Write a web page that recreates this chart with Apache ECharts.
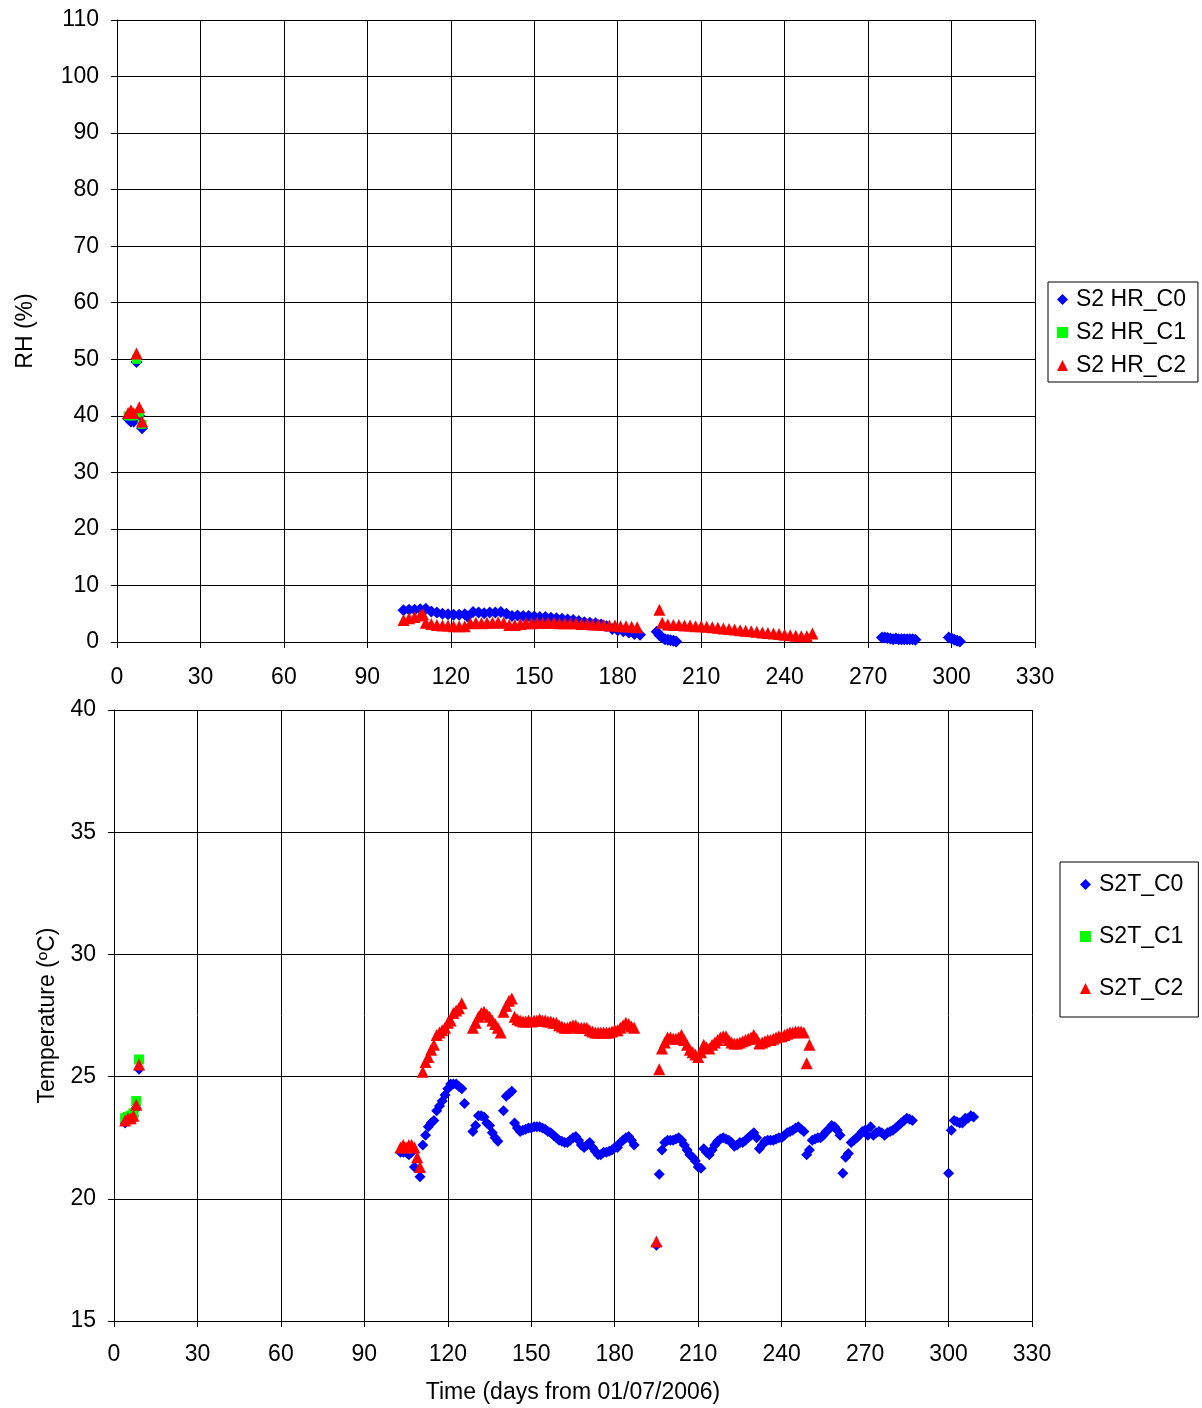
<!DOCTYPE html>
<html>
<head>
<meta charset="utf-8">
<title>S2 RH / Temperature</title>
<script src="https://cdn.jsdelivr.net/npm/echarts@6/dist/echarts.min.js"></script>
<style>
html, body { margin: 0; padding: 0; background: #fff; }
#main { width: 1202px; height: 1408px; }
</style>
</head>
<body>
<div id="main"></div>
<script>
// RH (%) - [day, value]
var hrC0 = [[4,39.5],[5,39],[6,39],[7,49.5],[8,40],[9,37.8],
    [103,5.6],[105,5.7],[107,5.7],[109,5.8],[111,5.9],[113,5.4],[115,5.2],[117,5.0],[119,4.9],[121,4.8],[123,4.8],[125,4.9],[126,4.5],
    [128,5.3],[130,5.2],[132,5.1],[134,5.2],[136,5.2],[138,5.3],[140,5.0],[142,4.6],[144,4.7],[146,4.6],[148,4.6],[150,4.5],[152,4.4],
    [154,4.4],[156,4.3],[158,4.2],[160,4.1],[162,4.0],[164,3.9],[166,3.7],[168,3.5],[170,3.4],[172,3.3],[174,3.1],[176,2.8],[178,2.3],
    [180,2.1],[182,1.9],[184,1.7],[186,1.4],[188,1.3],
    [194,1.8],[195,1.2],[196,0.8],[197,0.5],[198,0.4],[199,0.3],[200,0.2],[201,0.1],
    [275,0.8],[276,0.8],[277,0.7],[278,0.6],[279,0.5],[280,0.6],[281,0.5],[282,0.5],[283,0.5],[284,0.5],[285,0.5],[286,0.5],[287,0.4],
    [299,0.8],[300,0.6],[301,0.4],[302,0.2],[303,0.1]];
var hrC1 = [[4,40],[5,40],[6,40],[7,50],[8,40.5],[9,38.5]];
var hrC2 = [[4,40.5],[5,41],[6,40.5],[7,51],[8,41.5],[9,39],
    [103,3.9],[105,4.2],[107,4.4],[109,4.7],[110,4.9],[111,3.4],[113,3.2],[115,3.0],[117,2.9],[119,2.9],[121,2.8],[123,2.8],[125,2.8],
    [127,3.3],[129,3.4],[131,3.3],[133,3.4],[135,3.4],[137,3.5],[139,3.4],[141,3.0],[143,3.0],[145,3.2],[147,3.3],[149,3.3],[151,3.4],
    [153,3.4],[155,3.4],[157,3.4],[159,3.3],[161,3.3],[163,3.3],[165,3.3],[167,3.2],[169,3.2],[171,3.1],[173,3.1],[175,3.0],[177,2.9],
    [179,2.9],[181,2.8],[183,2.8],[185,2.7],[187,2.6],
    [195,5.7],[196,3.4],[198,3.1],[200,3.0],[202,3.0],[204,2.9],[206,2.9],[208,2.8],[210,2.8],[212,2.7],[214,2.6],[216,2.5],[218,2.4],
    [220,2.3],[222,2.2],[224,2.1],[226,2.0],[228,1.9],[230,1.8],[232,1.7],[234,1.6],[236,1.5],[238,1.4],[240,1.3],[242,1.2],[244,1.1],
    [246,1.0],[248,1.0],[250,1.5]];

// Temperature (ºC) - [day, value]
var tC0 = [[4,23.1],[5,23.2],[6,23.3],[7,23.4],[8,23.7],[9,25.3],
    [103,21.9],[104,21.9],[105,21.9],[106,21.8],[107,21.9],[108,21.3],[110,20.9],[111,22.2],[112,22.6],[113,22.95],[114,23.1],[115,23.2],
    [116,23.6],[117,23.8],[118,24.0],[119,24.25],[120,24.5],[121,24.7],[122,24.7],[123,24.7],[124,24.6],[125,24.5],[126,23.9],
    [129,22.75],[130,23.0],[131,23.4],[132,23.4],[133,23.35],[134,23.1],[135,23.0],[136,22.7],[137,22.5],[138,22.35],
    [140,23.6],[141,24.2],[142,24.3],[143,24.4],[144,23.1],[145,22.9],[146,22.75],[147,22.8],[148,22.85],[149,22.9],[150,22.9],
    [151,22.95],[152,22.95],[153,22.95],[154,22.9],[155,22.85],[156,22.75],[157,22.7],[158,22.6],[159,22.5],[160,22.4],[161,22.35],
    [162,22.3],[163,22.3],[164,22.4],[165,22.5],[166,22.55],[167,22.4],[168,22.2],[169,22.1],[170,22.2],[171,22.3],[172,22.1],
    [173,21.95],[174,21.8],[175,21.8],[176,21.9],[177,21.9],[178,21.95],[179,22.0],[180,22.1],[181,22.1],[182,22.3],[183,22.4],
    [184,22.5],[185,22.55],[186,22.4],[187,22.2],
    [195,18.1],[196,21.0],[197,22.0],[198,22.3],[199,22.4],[200,22.4],[201,22.4],[202,22.45],[203,22.5],[204,22.4],[205,22.2],
    [206,22.0],[207,21.8],[208,21.7],[209,21.55],[210,21.3],[211,21.25],[212,22.05],[213,21.9],[214,21.8],[215,22.0],[216,22.2],
    [217,22.35],[218,22.45],[219,22.5],[220,22.45],[221,22.4],[222,22.3],[223,22.15],[224,22.2],[225,22.3],[226,22.3],[227,22.4],
    [228,22.5],[229,22.6],[230,22.7],[231,22.5],[232,22.05],[233,22.2],[234,22.35],[235,22.4],[236,22.4],[237,22.4],[238,22.45],
    [239,22.5],[240,22.5],[241,22.6],[242,22.7],[243,22.75],[244,22.8],[245,22.9],[246,22.95],[247,22.85],[248,22.75],[249,21.8],
    [250,22.0],[251,22.4],[252,22.45],[253,22.5],[254,22.5],[255,22.6],[256,22.75],[257,22.85],[258,23.0],[259,22.95],[260,22.8],
    [261,22.6],[262,21.05],[263,21.7],[264,21.85],[265,22.3],[266,22.4],[267,22.5],[268,22.6],[269,22.75],[270,22.8],[271,22.6],
    [272,22.95],[273,22.6],[274,22.7],[275,22.75],[276,22.7],[277,22.6],[278,22.7],[279,22.75],[280,22.8],[281,22.9],[282,23.0],
    [283,23.1],[284,23.2],[285,23.3],[286,23.25],[287,23.2],
    [300,21.05],[301,22.8],[302,23.2],[303,23.15],[304,23.1],[305,23.1],[306,23.3],[307,23.3],[308,23.4],[309,23.35]];
var tC1 = [[4,23.3],[5,23.35],[6,23.4],[7,23.5],[8,24.0],[9,25.7]];
var tC2 = [[4,23.2],[5,23.3],[6,23.3],[7,23.4],[8,23.85],[9,25.5],
    [103,22.1],[104,22.2],[105,22.1],[106,22.2],[107,22.2],[108,22.1],[109,21.7],[110,21.3],[111,25.2],[112,25.6],[113,25.8],
    [114,26.1],[115,26.3],[116,26.7],[117,26.8],[118,26.9],[119,27.0],[120,27.2],[121,27.3],[122,27.6],[123,27.7],[124,27.8],[125,28.0],
    [129,27.0],[130,27.2],[131,27.45],[132,27.6],[133,27.65],[134,27.55],[135,27.45],[136,27.3],[137,27.15],[138,27.0],[139,26.8],
    [140,27.65],[141,27.9],[142,28.1],[143,28.2],[144,27.45],[145,27.35],[146,27.3],[147,27.25],[148,27.25],[149,27.3],[150,27.25],
    [151,27.3],[152,27.3],[153,27.35],[154,27.3],[155,27.3],[156,27.25],[157,27.25],[158,27.2],[159,27.2],[160,27.1],[161,27.05],
    [162,27.0],[163,27.0],[164,27.05],[165,27.1],[166,27.1],[167,27.0],[168,27.0],[169,27.0],[170,27.0],[171,26.9],[172,26.85],
    [173,26.8],[174,26.8],[175,26.8],[176,26.8],[177,26.8],[178,26.8],[179,26.85],[180,26.9],[181,26.9],[182,27.0],[183,27.1],
    [184,27.2],[185,27.15],[186,27.05],[187,27.0],
    [195,18.25],[196,25.3],[197,26.15],[198,26.4],[199,26.6],[200,26.6],[201,26.55],[202,26.55],[203,26.6],[204,26.7],[205,26.5],
    [206,26.3],[207,26.1],[208,26.0],[209,25.9],[210,25.8],[211,26.0],[212,26.3],[213,26.2],[214,26.15],[215,26.3],[216,26.4],
    [217,26.5],[218,26.6],[219,26.65],[220,26.65],[221,26.5],[222,26.4],[223,26.35],[224,26.35],[225,26.4],[226,26.45],[227,26.5],
    [228,26.55],[229,26.6],[230,26.7],[231,26.55],[232,26.35],[233,26.4],[234,26.45],[235,26.5],[236,26.5],[237,26.55],[238,26.6],
    [239,26.65],[240,26.65],[241,26.7],[242,26.75],[243,26.8],[244,26.8],[245,26.85],[246,26.85],[247,26.85],[248,26.8],[249,25.55],
    [250,26.3]];

var hrNames = ['S2 HR_C0', 'S2 HR_C1', 'S2 HR_C2'];
var tNames = ['S2T_C0', 'S2T_C1', 'S2T_C2'];

var FONT = 'Liberation Sans, Arial, sans-serif';
var FS = 23;
var blue = '#0000ff', green = '#00ff00', red = '#ff0000';

function xAx(gridIndex, margin) {
    return {
        type: 'value', gridIndex: gridIndex, min: 0, max: 330, interval: 30,
        axisLine: {onZero: false, lineStyle: {color: '#000', width: 1}},
        axisTick: {show: true, length: 6, lineStyle: {color: '#000'}},
        axisLabel: {color: '#000', fontSize: FS, fontFamily: FONT, margin: margin},
        splitLine: {show: true, lineStyle: {color: '#000', width: 1}}
    };
}
function yAx(gridIndex, min, max, interval, name, nameGap) {
    return {
        type: 'value', gridIndex: gridIndex, min: min, max: max, interval: interval,
        name: name, nameLocation: 'middle', nameGap: nameGap, nameRotate: 90,
        nameTextStyle: {color: '#000', fontSize: FS, fontFamily: FONT},
        axisLine: {show: true, onZero: false, lineStyle: {color: '#000', width: 1}},
        axisTick: {show: true, length: 6, lineStyle: {color: '#000'}},
        axisLabel: {color: '#000', fontSize: FS, fontFamily: FONT, margin: 18},
        splitLine: {show: true, lineStyle: {color: '#000', width: 1}}
    };
}
function scat(name, data, sym, size, color, idx) {
    return {
        name: name, type: 'scatter', xAxisIndex: idx, yAxisIndex: idx,
        symbol: sym, symbolSize: size, data: data,
        itemStyle: {color: color, opacity: 1}, silent: true
    };
}

var myChart = echarts.init(document.getElementById('main'), null, {renderer: 'canvas'});

var option = {
    backgroundColor: '#fff',
    animation: false,
    grid: [
        {left: 117, top: 20, width: 918, height: 622},
        {left: 114, top: 710, width: 918, height: 611}
    ],
    xAxis: [
        xAx(0, 24),
        Object.assign(xAx(1, 22), {
            name: 'Time (days from 01/07/2006)', nameLocation: 'middle', nameGap: 60,
            nameTextStyle: {color: '#000', fontSize: FS, fontFamily: FONT}
        })
    ],
    yAxis: [
        yAx(0, 0, 110, 10, 'RH (%)', 80),
        yAx(1, 15, 40, 5, 'Temperature (ºC)', 55)
    ],
    legend: [
        {
            data: hrNames, orient: 'vertical', left: 1048, top: 282,
            borderColor: '#000', borderWidth: 1, padding: [6, 12, 5, 9],
            itemWidth: 11, itemHeight: 11, itemGap: 10,
            textStyle: {color: '#000', fontSize: FS, fontFamily: FONT, padding: [0, 0, 0, 3]}
        },
        {
            data: tNames, orient: 'vertical', left: 1060, top: 862,
            borderColor: '#000', borderWidth: 1, padding: [11, 15, 17, 20],
            itemWidth: 11, itemHeight: 11, itemGap: 29,
            textStyle: {color: '#000', fontSize: FS, fontFamily: FONT, padding: [0, 0, 0, 3]}
        }
    ],
    series: [
        scat(hrNames[0], hrC0, 'diamond', 12, blue, 0),
        scat(hrNames[1], hrC1, 'rect', 9, green, 0),
        scat(hrNames[2], hrC2, 'triangle', 12, red, 0),
        scat(tNames[0], tC0, 'diamond', 11, blue, 1),
        scat(tNames[1], tC1, 'rect', 10, green, 1),
        scat(tNames[2], tC2, 'triangle', 12, red, 1)
    ]
};

myChart.setOption(option);
</script>
</body>
</html>
